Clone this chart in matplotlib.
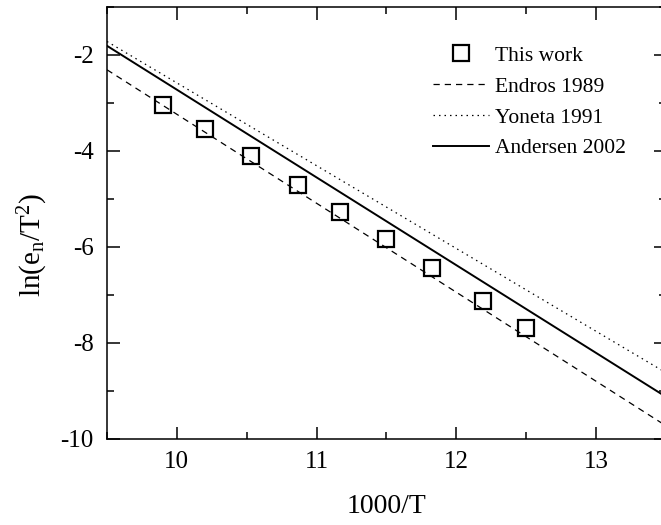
import matplotlib
matplotlib.use("Agg")
import matplotlib.pyplot as plt
import numpy as np
from matplotlib.ticker import MultipleLocator

plt.rcParams["font.family"] = ["Liberation Serif", "DejaVu Serif"]
plt.rcParams["mathtext.fontset"] = "custom"
plt.rcParams["mathtext.rm"] = "Liberation Serif"
plt.rcParams["mathtext.it"] = "Liberation Serif:italic"
plt.rcParams["axes.unicode_minus"] = False

# Measured emission rates (Arrhenius plot)
inv_T = [9.90, 10.20, 10.53, 10.87, 11.17, 11.495, 11.83, 12.195, 12.50]
ln_en_T2 = [-3.04, -3.54, -4.11, -4.72, -5.27, -5.84, -6.45, -7.13, -7.69]

# Literature signatures: ln(e/T^2) = intercept + slope * (1000/T - 9.5)
ref_names = ["Endros 1989", "Yoneta 1991", "Andersen 2002"]
ref_intercepts = [-2.31, -1.72, -1.81]
ref_slopes = [-1.855, -1.726, -1.829]
ref_styles = [(0, (5, 4)), (0, (1.2, 3.2)), "-"]
ref_widths = [0.9, 0.9, 1.4]

fig = plt.figure(figsize=(6.61, 5.25), dpi=100)
ax = fig.add_axes([0.1619, 0.1646, 0.8453, 0.8221])

ax.plot(inv_T, ln_en_T2, linestyle="none", marker="s", markersize=12,
        markerfacecolor="none", markeredgecolor="black", markeredgewidth=1.6,
        label="This work")

xs = np.linspace(9.5, 13.5, 200)
for name, b, m, ls, lw in zip(ref_names, ref_intercepts, ref_slopes, ref_styles, ref_widths):
    ax.plot(xs, b + m * (xs - 9.5), color="black", linestyle=ls, linewidth=lw, label=name)

ax.set_xlim(9.5, 13.5)
ax.set_ylim(-10, -1)
ax.xaxis.set_major_locator(MultipleLocator(1))
ax.xaxis.set_minor_locator(MultipleLocator(0.5))
ax.yaxis.set_major_locator(MultipleLocator(2))
ax.yaxis.set_minor_locator(MultipleLocator(1))

ax.tick_params(which="both", direction="in", top=True, right=True, width=1.1)
ax.tick_params(which="major", length=9)
ax.tick_params(which="minor", length=5)
ax.tick_params(axis="x", which="major", labelsize=18, pad=9)
ax.tick_params(axis="y", which="major", labelsize=18, pad=9.5)
for s in ax.spines.values():
    s.set_linewidth(1.1)

ax.set_xlabel("1000/T", fontsize=20)
ax.set_ylabel(r"$\mathrm{ln(e_n/T^2)}$", fontsize=21)
ax.xaxis.set_label_coords(0.5, -0.129)
ax.yaxis.set_label_coords(-0.102, 0.449)

ax.legend(loc="upper right", bbox_to_anchor=(0.929, 0.910), frameon=False,
          fontsize=15.5, handlelength=2.6, handletextpad=0.3, labelspacing=0.5,
          borderaxespad=0, borderpad=0)

fig.savefig("out.png", dpi=100)
